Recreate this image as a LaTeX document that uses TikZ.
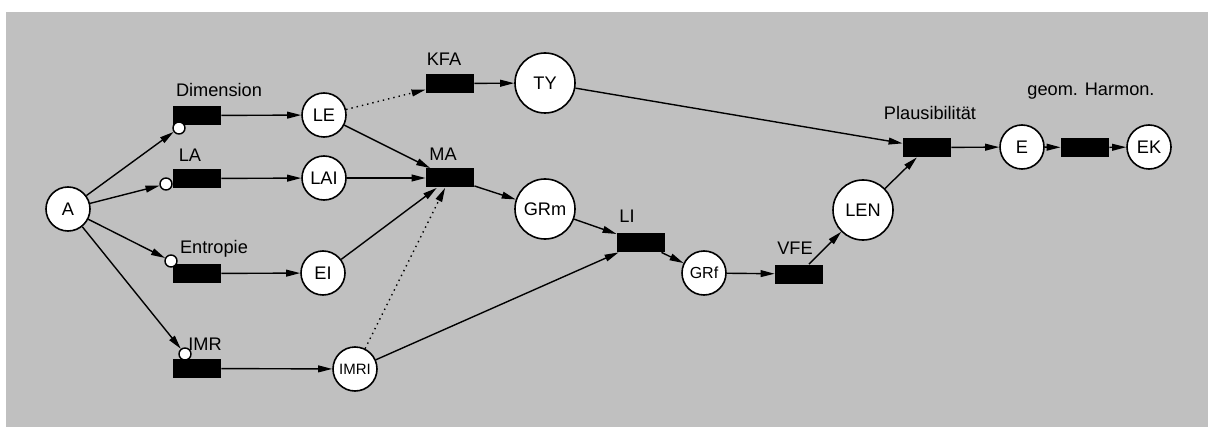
\documentclass[tikz,border=0pt]{standalone}
\usepackage{fontspec}
\setmainfont{Liberation Sans}
\usetikzlibrary{arrows.meta}
\definecolor{bggray}{RGB}{192,192,192}
\tikzset{
  place/.style={circle, draw=black, fill=white, line width=0.8pt, inner sep=0pt, minimum size=22pt},
  bigplace/.style={place, minimum size=30pt},
  trans/.style={fill=black, minimum width=24pt, minimum height=9.5pt, inner sep=0pt},
  tap/.style={circle, draw=black, fill=white, line width=0.7pt, inner sep=0pt, minimum size=6pt},
  lbl/.style={inner sep=0pt},
  arc/.style={-{Triangle[length=7pt,width=3.4pt]}, line width=0.7pt},
}
\begin{document}
\begin{tikzpicture}[x=0.5pt, y=-0.5pt, font=\fontsize{9.1}{11}\selectfont]
        \useasboundingbox (0,0) rectangle (1208,427);
        \fill[bggray] (6,12) rectangle (1208,427);
        % places
        \node[place] (A) at (68,209) {A};
        \node[place] (LE) at (324,115) {LE};
        \node[place] (LAI) at (324,178) {LAI};
        \node[place] (EI) at (323,273) {EI};
        \node[place, font=\fontsize{7.5}{9}\selectfont] (IMRI) at (355,369) {IMRI};
        \node[bigplace] (TY) at (545,83) {TY};
        \node[bigplace] (GRm) at (545,209) {GRm};
        \node[place, font=\fontsize{8}{10}\selectfont] (GRf) at (704,273) {GRf};
        \node[bigplace] (LEN) at (863,210) {LEN};
        \node[place] (E) at (1022,147) {E};
        \node[place] (EK) at (1149,147) {EK};
        % transitions
        \node[trans] (dim) at (197,115.5) {};
        \node[trans] (la) at (197,178.5) {};
        \node[trans] (ent) at (197,273.5) {};
        \node[trans] (imr) at (197,368.5) {};
        \node[trans] (kfa) at (450,83.5) {};
        \node[trans] (ma) at (450,178) {};
        \node[trans] (li) at (641,242.5) {};
        \node[trans] (vfe) at (799,274) {};
        \node[trans] (pl) at (927,147.5) {};
        \node[trans] (gh) at (1085,147.5) {};
        % taps
        \node[tap] (dimC) at (179,128) {};
        \node[tap] (laC) at (166,184) {};
        \node[tap] (entC) at (171,261) {};
        \node[tap] (imrC) at (185,354) {};
        % labels
        \node[lbl] (dimL) at (219,90) {Dimension};
        \node[lbl] (laL) at (190,155) {LA};
        \node[lbl] (entL) at (214,249) {Entropie};
        \node[lbl] (imrL) at (205,344) {IMR};
        \node[lbl] (kfaL) at (444,59) {KFA};
        \node[lbl] (maL) at (443,154) {MA};
        \node[lbl] (liL) at (627,216) {LI};
        \node[lbl] (vfeL) at (795,248) {VFE};
        \node[lbl] (plL) at (930,113) {Plausibilität};
        \node[lbl] (ghL) at (1091,91) {geom. Harmon.};
        % arcs
        \draw[arc] (A) -- (dimC);
        \draw[arc] (A) -- (laC);
        \draw[arc] (A) -- (entC);
        \draw[arc] (A) -- (imrC);
        \draw[arc] (dim) -- (LE);
        \draw[arc] (la) -- (LAI);
        \draw[arc] (ent) -- (EI);
        \draw[arc] (imr) -- (IMRI);
        \draw[arc, dotted] (LE) -- (kfa);
        \draw[arc] (kfa) -- (TY);
        \draw[arc] (LE) -- (ma);
        \draw[arc] (LAI) -- (ma);
        \draw[arc] (EI) -- (ma);
        \draw[arc, dotted] (IMRI) -- (ma);
        \draw[arc] (ma) -- (GRm);
        \draw[arc] (GRm) -- (li);
        \draw[arc] (IMRI) -- (li);
        \draw[arc] (li) -- (GRf);
        \draw[arc] (GRf) -- (vfe);
        \draw[arc] (vfe) -- (LEN);
        \draw[arc] (LEN) -- (pl);
        \draw[arc] (TY) -- (pl);
        \draw[arc] (pl) -- (E);
        \draw[arc] (E) -- (gh);
        \draw[arc] (gh) -- (EK);
\end{tikzpicture}
\end{document}
